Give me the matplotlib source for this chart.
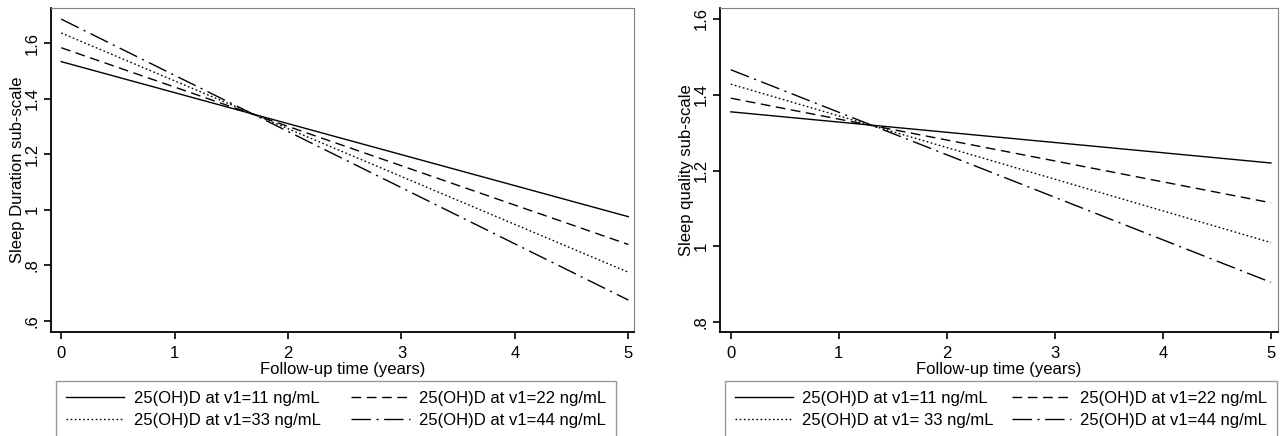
import numpy as np
import matplotlib
matplotlib.use("Agg")
import matplotlib.pyplot as plt

plt.rcParams['font.family'] = ['Liberation Sans', 'DejaVu Sans']

# data: predicted values at start and end of follow-up
years = [0, 5]
labels_left = ["25(OH)D at v1=11 ng/mL", "25(OH)D at v1=22 ng/mL",
               "25(OH)D at v1=33 ng/mL", "25(OH)D at v1=44 ng/mL"]
labels_right = ["25(OH)D at v1=11 ng/mL", "25(OH)D at v1=22 ng/mL",
                "25(OH)D at v1= 33 ng/mL", "25(OH)D at v1=44 ng/mL"]
duration_11 = [1.533, 0.975]
duration_22 = [1.583, 0.875]
duration_33 = [1.636, 0.775]
duration_44 = [1.686, 0.675]
quality_11 = [1.355, 1.220]
quality_22 = [1.391, 1.115]
quality_33 = [1.428, 1.010]
quality_44 = [1.466, 0.905]

dur_ticks = [0.6, 0.8, 1.0, 1.2, 1.4, 1.6]
dur_ticklabels = [".6", ".8", "1", "1.2", "1.4", "1.6"]
qual_ticks = [0.8, 1.0, 1.2, 1.4, 1.6]
qual_ticklabels = [".8", "1", "1.2", "1.4", "1.6"]

styles = [dict(linestyle="-"),
          dict(linestyle=(0, (7, 4))),
          dict(linestyle=(0, (1.2, 1.8))),
          dict(linestyle=(0, (14, 4, 1.5, 4)))]

FS = 12
W, H = 1284, 436
fig = plt.figure(figsize=(W / 100, H / 100), dpi=100)

def px_axes(x0, x1, y0, y1):
    return fig.add_axes([x0 / W, 1 - y1 / H, (x1 - x0) / W, (y1 - y0) / H])

def style_axes(ax, ylabel, yticks, yticklabels, ylim, xlim):
    ax.set_xlim(*xlim)
    ax.set_ylim(*ylim)
    ax.set_xticks(range(6))
    ax.set_yticks(yticks)
    ax.set_yticklabels(yticklabels, rotation=90, va="center")
    ax.tick_params(axis="both", direction="out", length=5, width=1.2,
                   labelsize=FS, colors="black")
    ax.tick_params(axis="x", pad=5)
    ax.tick_params(axis="y", pad=3)
    for s in ["left", "bottom"]:
        ax.spines[s].set_linewidth(1.3)
        ax.spines[s].set_color("black")
    for s in ["top", "right"]:
        ax.spines[s].set_linewidth(0.8)
        ax.spines[s].set_color("#808080")
    ax.set_xlabel("Follow-up time (years)", fontsize=FS, labelpad=0.5)
    ax.set_ylabel(ylabel, fontsize=FS, labelpad=0)

def legend(handles, labels, x0, y0, colsp):
    fig.legend(handles, labels, ncol=2, loc="upper left",
               bbox_to_anchor=(x0 / W, 1 - y0 / H), frameon=True,
               fancybox=False, edgecolor="#808080", fontsize=FS,
               handlelength=3.5, handletextpad=0.55, columnspacing=colsp,
               labelspacing=0.42, borderpad=0.6, borderaxespad=0)

# left panel
ax1 = px_axes(51, 634, 8, 332)
h1 = []
for vals, st in zip([duration_11, duration_22, duration_33, duration_44], styles):
    ln, = ax1.plot(years, vals, color="black", lw=1.0, **st)
    h1.append(ln)
style_axes(ax1, "Sleep Duration sub-scale", dur_ticks, dur_ticklabels,
           (0.56, 1.726), (-0.09, 5.05))

# right panel
ax2 = px_axes(720, 1278, 8, 332)
h2 = []
for vals, st in zip([quality_11, quality_22, quality_33, quality_44], styles):
    ln, = ax2.plot(years, vals, color="black", lw=1.0, **st)
    h2.append(ln)
style_axes(ax2, "Sleep quality sub-scale", qual_ticks, qual_ticklabels,
           (0.774, 1.629), (-0.1, 5.065))

order = [0, 2, 1, 3]
legend([h1[i] for i in order], [labels_left[i] for i in order], 56, 381, 1.85)
legend([h2[i] for i in order], [labels_right[i] for i in order], 725, 381, 1.1)

fig.savefig("out.png", dpi=100)
